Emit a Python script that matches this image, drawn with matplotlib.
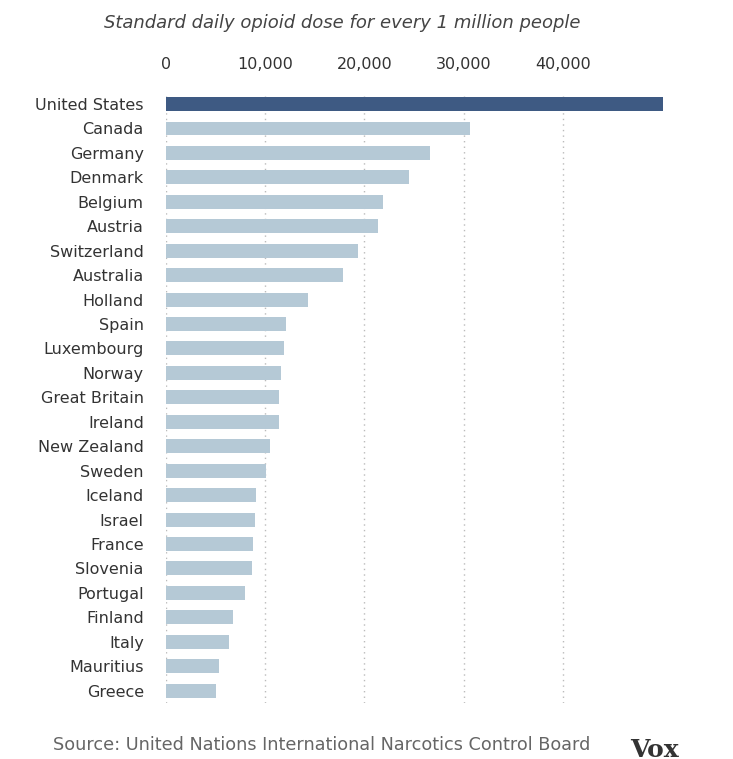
import matplotlib.pyplot as plt

countries = ["United States", "Canada", "Germany", "Denmark", "Belgium", "Austria",
             "Switzerland", "Australia", "Holland", "Spain", "Luxembourg", "Norway",
             "Great Britain", "Ireland", "New Zealand", "Sweden", "Iceland", "Israel",
             "France", "Slovenia", "Portugal", "Finland", "Italy", "Mauritius", "Greece"]
doses = [50100, 30650, 26600, 24500, 21900, 21400, 19350, 17850, 14300, 12100, 11900,
         11600, 11400, 11400, 10500, 10100, 9100, 9000, 8800, 8700, 8000, 6750, 6350,
         5350, 5050]
ticks = [0, 10000, 20000, 30000, 40000]
tick_labels = ["0", "10,000", "20,000", "30,000", "40,000"]

fig = plt.figure(figsize=(7.33, 7.59), dpi=100)
ax = fig.add_axes([0.2265, 0.074, 0.678, 0.805])

colors = ["#3e5a83"] + ["#b5c9d6"] * (len(countries) - 1)
ypos = list(range(len(countries)))
ax.barh(ypos, doses, height=0.57, color=colors, zorder=3)
ax.set_ylim(len(countries) - 0.5, -0.5)
ax.set_xlim(0, 50100)
ax.set_yticks(ypos)
ax.set_yticklabels(countries, fontsize=11.5, color="#333333")
ax.set_xticks(ticks)
ax.set_xticklabels(tick_labels, fontsize=11.5, color="#333333")
ax.xaxis.tick_top()
ax.tick_params(length=0, pad=16, axis="y")
ax.tick_params(length=0, pad=14, axis="x")
for s in ax.spines.values():
    s.set_visible(False)
ax.grid(axis="x", linestyle=(0, (1, 3)), color="#bbbbbb", linewidth=1, zorder=0)

fig.text(0.142, 0.97, "Standard daily opioid dose for every 1 million people",
         fontsize=13, style="italic", color="#444444", va="center")
fig.text(0.072, 0.018, "Source: United Nations International Narcotics Control Board",
         fontsize=12.7, color="#666666", va="center")
fig.text(0.86, 0.012, "Vox", fontsize=18, fontweight="bold", family="serif",
         color="#333333", va="center")

fig.savefig("out.png", dpi=100)
